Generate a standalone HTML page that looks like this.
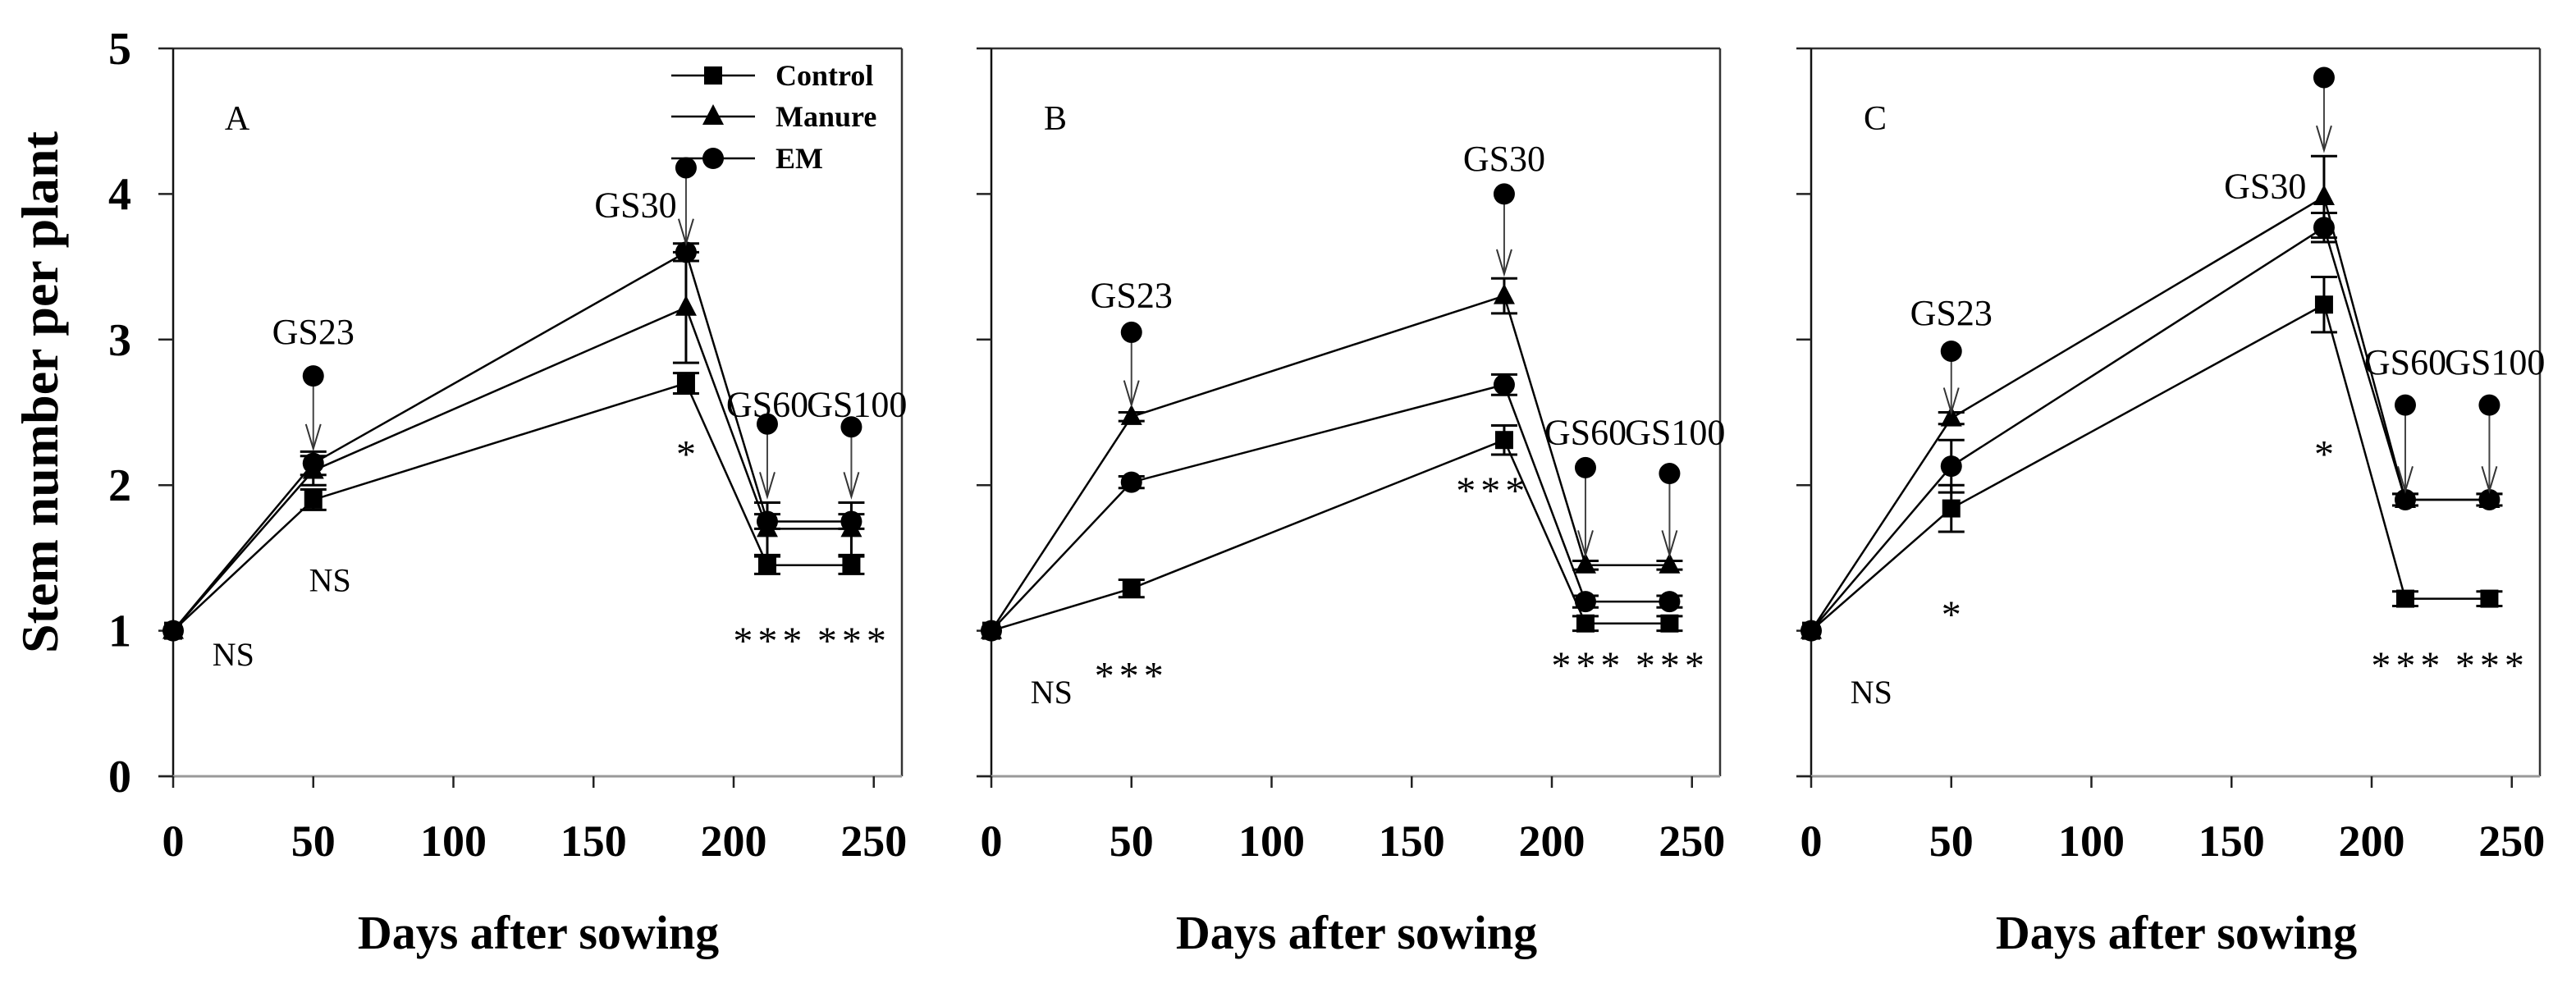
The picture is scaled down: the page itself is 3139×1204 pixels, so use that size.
<!DOCTYPE html>
<html><head><meta charset="utf-8"><style>
html,body{margin:0;padding:0;background:#fff;}
svg{display:block;}
svg text{font-family:"Liberation Serif","Times New Roman",serif;}
</style></head><body>
<svg id="chart" width="3139" height="1204" viewBox="0 0 3139 1204" xmlns="http://www.w3.org/2000/svg" font-family="Liberation Serif, serif"></svg>
<script>
const days = [0, 50, 183, 212, 242];
const xTicks = [0, 50, 100, 150, 200, 250];
const yTicks = [0, 1, 2, 3, 4, 5];
const panelLetters = ["A", "B", "C"];
const seriesNames = ["Control", "Manure", "EM"];

const controlA = [1, 1.9, 2.7, 1.45, 1.45];
const manureA  = [1, 2.1, 3.22, 1.7, 1.7];
const emA      = [1, 2.15, 3.6, 1.75, 1.75];
const controlErrA = [0, 0.07, 0.07, 0.06, 0.06];
const manureErrA  = [0, 0.1, 0.38, 0.18, 0.18];
const emErrA      = [0, 0.08, 0.06, 0.05, 0.05];

const controlB = [1, 1.29, 2.31, 1.05, 1.05];
const manureB  = [1, 2.47, 3.3, 1.45, 1.45];
const emB      = [1, 2.02, 2.69, 1.2, 1.2];
const controlErrB = [0, 0.06, 0.1, 0.05, 0.05];
const manureErrB  = [0, 0.03, 0.12, 0.03, 0.03];
const emErrB      = [0, 0.04, 0.07, 0.04, 0.04];

const controlC = [1, 1.84, 3.24, 1.22, 1.22];
const manureC  = [1, 2.46, 3.98, 1.9, 1.9];
const emC      = [1, 2.13, 3.77, 1.9, 1.9];
const controlErrC = [0, 0.16, 0.19, 0.05, 0.05];
const manureErrC  = [0, 0.04, 0.28, 0.04, 0.04];
const emErrC      = [0, 0.18, 0.1, 0.04, 0.04];

const gsLabels = ["GS23", "GS30", "GS60", "GS100"];
const gsDays = [50, 183, 212, 242];
const gsDotA = [2.75, 4.18, 2.42, 2.4];
const gsTipA = [2.25, 3.66, 1.92, 1.92];
const gsDotB = [3.05, 4.0, 2.12, 2.08];
const gsTipB = [2.55, 3.45, 1.52, 1.52];
const gsDotC = [2.92, 4.8, 2.55, 2.55];
const gsTipC = [2.5, 4.3, 1.96, 1.96];

const sigTextA = ["NS", "NS", "*", "***", "***"];
const sigDayA = [14, 56, 183, 213, 243];
const sigValA = [0.84, 1.35, 2.2, 0.92, 0.92];
const sigTextB = ["NS", "***", "***", "***", "***"];
const sigDayB = [14, 50, 179, 213, 243];
const sigValB = [0.58, 0.68, 1.95, 0.75, 0.75];
const sigTextC = ["NS", "*", "*", "***", "***"];
const sigDayC = [14, 50, 183, 213, 243];
const sigValC = [0.58, 1.1, 2.2, 0.75, 0.75];

const panels = [
  {x0: 211, s: [controlA, manureA, emA], e: [controlErrA, manureErrA, emErrA], dot: gsDotA, tip: gsTipA, st: sigTextA, sd: sigDayA, sv: sigValA,
   lab: [[50, 3.05], [165, 3.92], [212, 2.55], [244, 2.55]]},
  {x0: 1208, s: [controlB, manureB, emB], e: [controlErrB, manureErrB, emErrB], dot: gsDotB, tip: gsTipB, st: sigTextB, sd: sigDayB, sv: sigValB,
   lab: [[50, 3.3], [183, 4.24], [212, 2.36], [244, 2.36]]},
  {x0: 2207, s: [controlC, manureC, emC], e: [controlErrC, manureErrC, emErrC], dot: gsDotC, tip: gsTipC, st: sigTextC, sd: sigDayC, sv: sigValC,
   lab: [[50, 3.18], [162, 4.05], [212, 2.84], [244, 2.84]]}
];

const NS = "http://www.w3.org/2000/svg";
const svg = document.getElementById("chart");
const Y0 = 946, UNIT = 177.4, DX = 3.415, W = 888;
function yS(v){ return Y0 - v * UNIT; }
function mk(tag, attrs, parent){
  const el = document.createElementNS(NS, tag);
  if (tag === "text") el.setAttribute("font-family", "Liberation Serif, serif");
  for (const k in attrs) el.setAttribute(k, attrs[k]);
  (parent || svg).appendChild(el);
  return el;
}
function marker(g, kind, cx, cy){
  if (kind === 0) return mk("rect", {x: cx-11, y: cy-11, width: 22, height: 22, fill: "#000"}, g);
  if (kind === 1) return mk("polygon", {points: `${cx},${cy-15} ${cx-13},${cy+10} ${cx+13},${cy+10}`, fill: "#000"}, g);
  return mk("circle", {cx: cx, cy: cy, r: 13, fill: "#000"}, g);
}
const sNames = ["control", "manure", "em"];

panels.forEach((p, pi) => {
  const xS = d => p.x0 + d * DX;
  const g = mk("g", {});
  
  
  mk("line", {x1: p.x0, y1: 59, x2: p.x0 + W, y2: 59, stroke: "#333", "stroke-width": 2.5}, g);
  mk("line", {x1: p.x0 + W, y1: 59, x2: p.x0 + W, y2: Y0, stroke: "#333", "stroke-width": 2.5}, g);
  const yAx = mk("line", {x1: p.x0, y1: 59, x2: p.x0, y2: Y0 + 2, stroke: "#111", "stroke-width": 2.5}, g);
  
  
  const xAx = mk("line", {x1: p.x0 - 18, y1: Y0, x2: p.x0 + W, y2: Y0, stroke: "#999", "stroke-width": 3}, g);
  
  
  yTicks.forEach(v => {
    mk("line", {x1: p.x0 - 18, y1: yS(v), x2: p.x0, y2: yS(v), stroke: "#222", "stroke-width": 2.5}, g);
    if (pi === 0) {
      const t = mk("text", {x: 146, y: yS(v) + 19, "text-anchor": "middle", "font-size": 56, "font-weight": "bold"}, g);
      t.textContent = v;
      
      
    }
  });
  xTicks.forEach(v => {
    mk("line", {x1: xS(v), y1: Y0, x2: xS(v), y2: Y0 + 14, stroke: "#222", "stroke-width": 2.5}, g);
    const t = mk("text", {x: xS(v), y: 1043, "text-anchor": "middle", "font-size": 54, "font-weight": "bold"}, g);
    t.textContent = v;
    
    
  });
  const xt = mk("text", {x: p.x0 + 445, y: 1156, "text-anchor": "middle", "font-size": 58, "font-weight": "bold"}, g);
  xt.textContent = "Days after sowing";
  
  
  const pl = mk("text", {x: p.x0 + 78, y: 158, "text-anchor": "middle", "font-size": 42}, g);
  pl.textContent = panelLetters[pi];
  
  

  p.s.forEach((vals, si) => {
    const sg = mk("g", {}, g);
    
    
    mk("polyline", {points: vals.map((v, i) => xS(days[i]) + "," + yS(v)).join(" "), fill: "none", stroke: "#000", "stroke-width": 2.5}, sg);
    vals.forEach((v, i) => {
      const er = p.e[si][i];
      if (er > 0) {
        const cx = xS(days[i]);
        mk("line", {x1: cx, y1: yS(v + er), x2: cx, y2: yS(v - er), stroke: "#000", "stroke-width": 3}, sg);
        mk("line", {x1: cx - 16, y1: yS(v + er), x2: cx + 16, y2: yS(v + er), stroke: "#000", "stroke-width": 3}, sg);
        mk("line", {x1: cx - 16, y1: yS(v - er), x2: cx + 16, y2: yS(v - er), stroke: "#000", "stroke-width": 3}, sg);
      }
      const m = marker(sg, si, xS(days[i]), yS(v));
      
      
    });
  });

  gsDays.forEach((d, i) => {
    const ag = mk("g", {}, g);
    
    
    const cx = xS(d), yd = yS(p.dot[i]), yt = yS(p.tip[i]);
    mk("line", {x1: cx, y1: yd, x2: cx, y2: yt, stroke: "#444", "stroke-width": 2}, ag);
    mk("polyline", {points: `${cx-9},${yt-30} ${cx},${yt} ${cx+9},${yt-30}`, fill: "none", stroke: "#333", "stroke-width": 2}, ag);
    mk("circle", {cx: cx, cy: yd, r: 13, fill: "#000"}, ag);
    const lb = p.lab[i];
    const t = mk("text", {x: xS(lb[0]), y: yS(lb[1]) + 14, "text-anchor": "middle", "font-size": 44}, ag);
    t.textContent = gsLabels[i];
  });

  p.st.forEach((s, i) => {
    const t = mk("text", {x: xS(p.sd[i]), y: yS(p.sv[i]) + 14, "text-anchor": s === "NS" && i === 0 ? "start" : "middle", "font-size": s === "NS" ? 40 : 48, "letter-spacing": s === "***" ? 6 : 0}, g);
    t.textContent = s;
    
    
  });
});

const yt = mk("text", {x: 0, y: 0, transform: "translate(70,478) rotate(-90)", "text-anchor": "middle", "font-size": 64, "font-weight": "bold"});
yt.textContent = "Stem number per plant";



const lg = mk("g", {});


const legY = [92, 142, 193];
seriesNames.forEach((n, i) => {
  const eg = mk("g", {}, lg);
  
  
  mk("line", {x1: 818, y1: legY[i], x2: 920, y2: legY[i], stroke: "#000", "stroke-width": 2.5}, eg);
  marker(eg, i, 869, legY[i]);
  const t = mk("text", {x: 945, y: legY[i] + 12, "font-size": 36, "font-weight": "bold"}, eg);
  t.textContent = n;
});
</script>
</body></html>
